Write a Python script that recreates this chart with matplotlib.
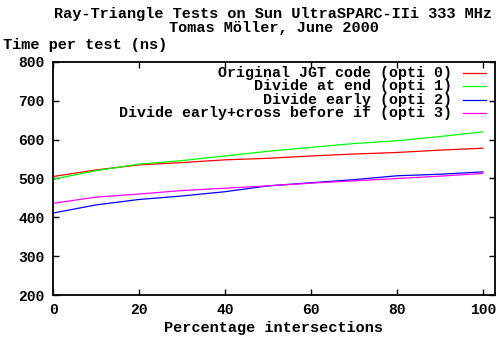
import matplotlib.pyplot as plt

# percentage of rays that hit the triangle
pct = [0, 10, 20, 30, 40, 50, 60, 70, 80, 90, 100]

# time per test in ns for each variant
opti0 = [505, 522, 535, 541, 548, 552, 558, 563, 567, 573, 578]
opti1 = [498, 520, 537, 546, 558, 570, 580, 590, 597, 608, 620]
opti2 = [411, 432, 446, 455, 466, 481, 489, 497, 507, 511, 517]
opti3 = [436, 452, 460, 469, 475, 481, 488, 494, 500, 506, 513]

labels = ["Original JGT code (opti 0)", "Divide at end (opti 1)",
          "Divide early (opti 2)", "Divide early+cross before if (opti 3)"]
colors = ["#ff0000", "#00ff00", "#0000ff", "#ff00ff"]

FONT = dict(family="Liberation Mono", weight="bold")

fig = plt.figure(figsize=(5, 3.5), dpi=100)
ax = fig.add_axes([0.106, 0.157, 0.884, 0.666])

for ys, c in zip([opti0, opti1, opti2, opti3], colors):
    ax.plot(pct, ys, color=c, lw=0.9)

ax.set_xlim(0, 102.8)
ax.set_ylim(200, 800)
ax.set_xticks([0, 20, 40, 60, 80, 100])
ax.set_yticks([200, 300, 400, 500, 600, 700, 800])
ax.tick_params(direction="in", top=True, right=True, length=4, width=1,
               pad=6)
for lab in ax.get_xticklabels() + ax.get_yticklabels():
    lab.set_fontproperties(FONT)
    lab.set_fontsize(10.5)
for sp in ax.spines.values():
    sp.set_linewidth(1.3)

# gnuplot style key: right aligned text followed by a line sample
rows = [0.953, 0.897, 0.837, 0.781]
for lab, c, y in zip(labels, colors, rows):
    ax.text(0.903, y, lab, transform=ax.transAxes, ha="right", va="center",
            fontsize=10.8, **FONT)
    ax.plot([0.928, 0.980], [y, y], color=c, lw=0.9, transform=ax.transAxes)

fig.text(0.546, 0.96, "Ray-Triangle Tests on Sun UltraSPARC-IIi 333 MHz",
         ha="center", va="center", fontsize=11, **FONT)
fig.text(0.548, 0.92, "Tomas Möller, June 2000",
         ha="center", va="center", fontsize=11, **FONT)
fig.text(0.006, 0.871, "Time per test (ns)", ha="left", va="center",
         fontsize=11, **FONT)
fig.text(0.548, 0.063, "Percentage intersections", ha="center", va="center",
         fontsize=11, **FONT)

fig.savefig("out.png", dpi=100)
